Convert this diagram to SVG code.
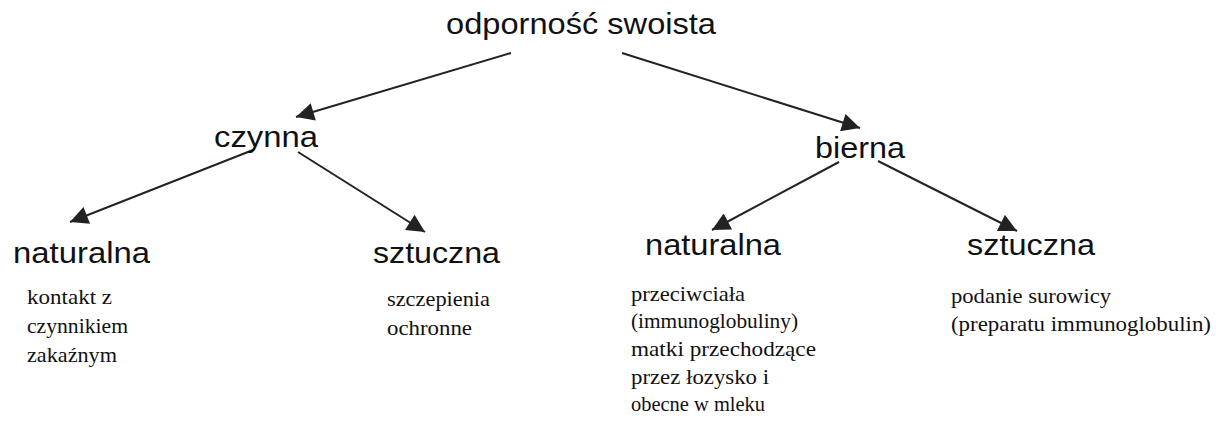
<svg xmlns="http://www.w3.org/2000/svg" width="1216" height="423" viewBox="0 0 1216 423">
<style>
.h{font-family:"Liberation Sans",Arial,sans-serif;font-size:29px;fill:#111}
.s{font-family:"Liberation Serif","Times New Roman",serif;font-size:21px;fill:#111}
.c{stroke:#222;stroke-width:2;fill:none;marker-end:url(#ah)}
</style>
<defs>
<marker id="ah" viewBox="0 0 10 10" refX="10" refY="5" markerWidth="10" markerHeight="9" markerUnits="strokeWidth" orient="auto">
<path d="M0,0 L10,5 L0,10 z" fill="#222"/>
</marker>
</defs>
<rect width="1216" height="423" fill="#fff"/>
<g id="connectors">
<line class="c" x1="511" y1="53" x2="296" y2="117"/>
<line class="c" x1="622" y1="53" x2="860" y2="128"/>
<line class="c" x1="253" y1="150" x2="70" y2="222"/>
<line class="c" x1="298" y1="152" x2="425" y2="232"/>
<line class="c" x1="839" y1="162" x2="712" y2="230"/>
<line class="c" x1="878" y1="161" x2="1017" y2="231"/>
</g>
<g id="root"><text class="h" x="446" y="34" textLength="270" lengthAdjust="spacingAndGlyphs">odporność swoista</text></g>
<g id="czynna"><text class="h" x="214" y="147" textLength="104" lengthAdjust="spacingAndGlyphs">czynna</text></g>
<g id="bierna"><text class="h" x="815" y="158" textLength="90" lengthAdjust="spacingAndGlyphs">bierna</text></g>
<g id="czynna-naturalna">
<text class="h" x="13" y="263" textLength="137" lengthAdjust="spacingAndGlyphs">naturalna</text>
<text class="s" x="27" y="304" textLength="85" lengthAdjust="spacingAndGlyphs">kontakt z</text>
<text class="s" x="27" y="333" textLength="101" lengthAdjust="spacingAndGlyphs">czynnikiem</text>
<text class="s" x="27" y="362" textLength="90" lengthAdjust="spacingAndGlyphs">zakaźnym</text>
</g>
<g id="czynna-sztuczna">
<text class="h" x="373" y="263" textLength="127" lengthAdjust="spacingAndGlyphs">sztuczna</text>
<text class="s" x="387" y="306" textLength="103" lengthAdjust="spacingAndGlyphs">szczepienia</text>
<text class="s" x="387" y="335" textLength="85" lengthAdjust="spacingAndGlyphs">ochronne</text>
</g>
<g id="bierna-naturalna">
<text class="h" x="645" y="255" textLength="136" lengthAdjust="spacingAndGlyphs">naturalna</text>
<text class="s" x="631" y="301" textLength="114" lengthAdjust="spacingAndGlyphs">przeciwciała</text>
<text class="s" x="631" y="328" textLength="167" lengthAdjust="spacingAndGlyphs">(immunoglobuliny)</text>
<text class="s" x="631" y="356" textLength="185" lengthAdjust="spacingAndGlyphs">matki przechodzące</text>
<text class="s" x="631" y="384" textLength="138" lengthAdjust="spacingAndGlyphs">przez łozysko i</text>
<text class="s" x="631" y="411" textLength="134" lengthAdjust="spacingAndGlyphs">obecne w mleku</text>
</g>
<g id="bierna-sztuczna">
<text class="h" x="967" y="255" textLength="128" lengthAdjust="spacingAndGlyphs">sztuczna</text>
<text class="s" x="951" y="303" textLength="160" lengthAdjust="spacingAndGlyphs">podanie surowicy</text>
<text class="s" x="951" y="331" textLength="260" lengthAdjust="spacingAndGlyphs">(preparatu immunoglobulin)</text>
</g>
</svg>
